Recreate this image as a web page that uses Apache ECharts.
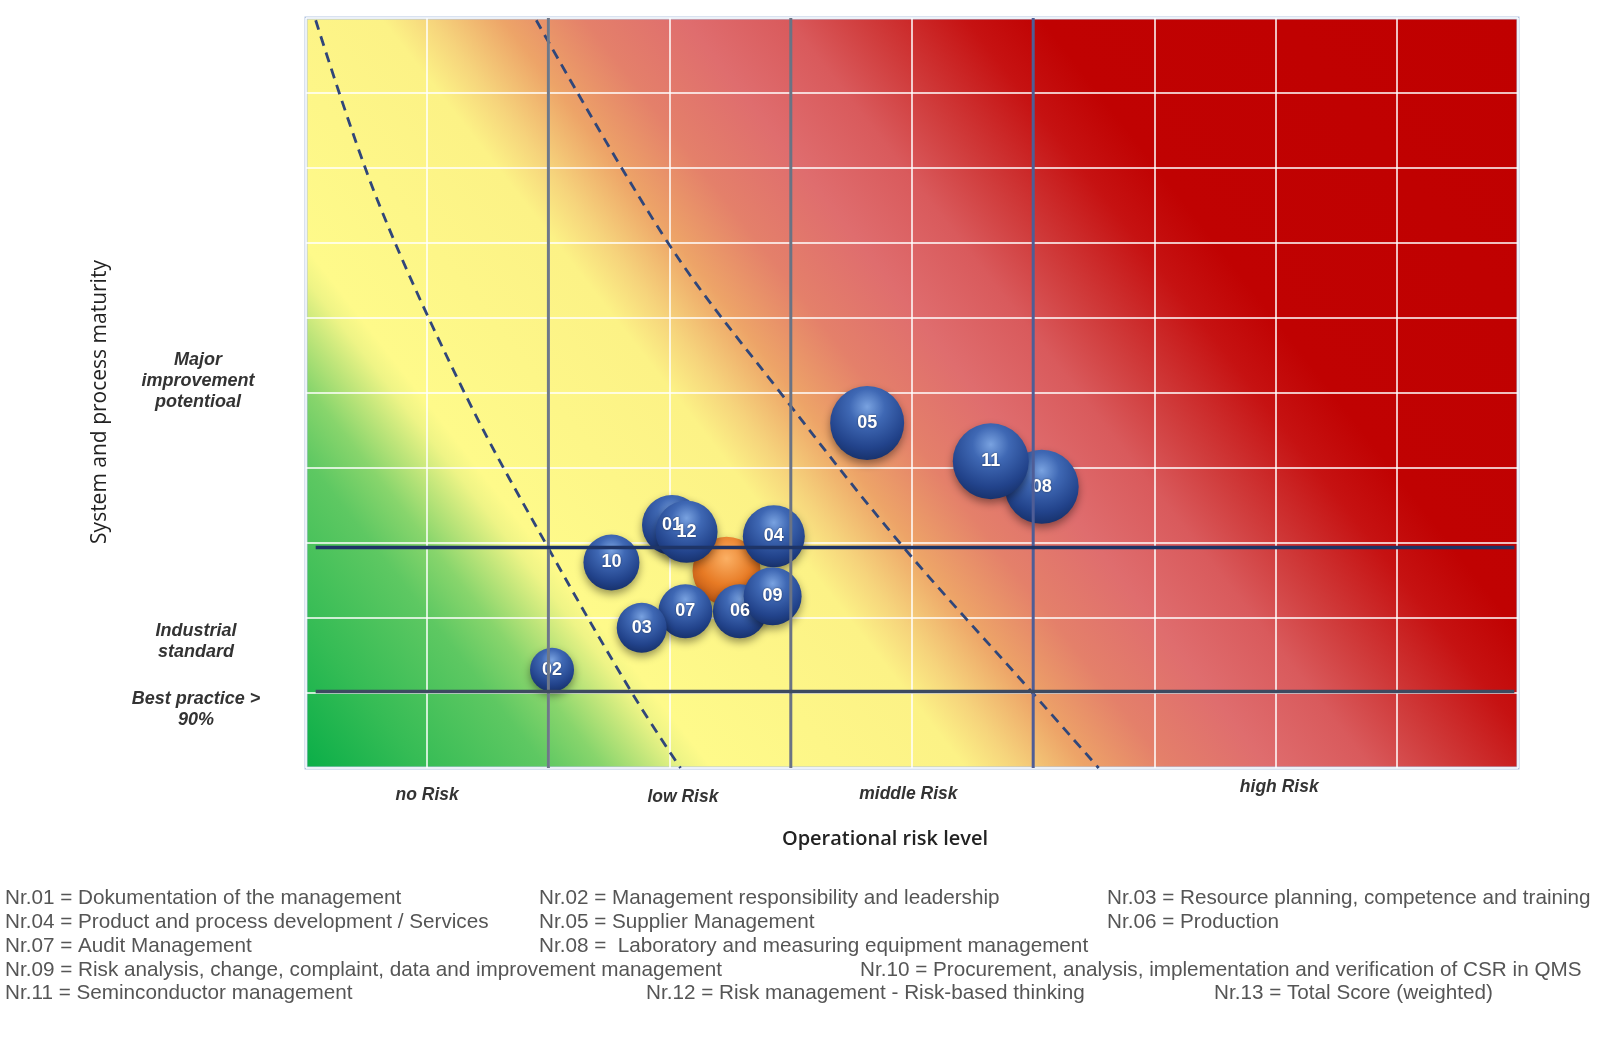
<!DOCTYPE html>
<html>
<head>
<meta charset="utf-8">
<script src="https://cdn.jsdelivr.net/npm/echarts@6/dist/echarts.min.js"></script>
<style>
  html, body { margin: 0; padding: 0; background: #ffffff; }
  #main { width: 1600px; height: 1052px; }
</style>
</head>
<body>
<div id="main"></div>
<script>
// ---------------- DATA ----------------
// Bubble ids in drawing order (later = on top)
const bubbleIds      = ['13', '08', '11', '05', '01', '12', '04', '10', '06', '09', '07', '03', '02'];
// Operational risk level (x)
const riskLevel      = [3.47, 6.07, 5.65, 4.63, 3.02, 3.14, 3.86, 2.52, 3.58, 3.85, 3.13, 2.77, 2.03];
// System and process maturity (y)
const maturity       = [2.63, 3.75, 4.09, 4.60, 3.24, 3.15, 3.09, 2.74, 2.09, 2.29, 2.09, 1.87, 1.31];
// Bubble weight (diameter)
const bubbleSize     = [68, 74, 76, 74, 60, 62, 62, 56, 54, 58, 54, 50, 44];

// Divider lines
const riskDividers     = [2, 4, 6];
const maturityDividers = [2.94, 1.02];

// Dashed boundary curves  [risk, maturity]
const boundaryLow  = [[0.08, 9.97], [0.59, 7.57], [1.33, 4.93], [2.0, 2.93], [2.69, 1.0], [3.09, 0]];
const boundaryHigh = [[1.9, 9.97], [3.0, 6.97], [3.95, 4.93], [4.9, 3.0], [5.99, 1.01], [6.54, 0]];

// Zone labels along x axis
const zoneNames     = ['no Risk', 'low Risk', 'middle Risk', 'high Risk'];
const zonePositions = [1, 3.11, 4.97, 8.03];

// Maturity level labels on the left
const levelNames = ['Major\nimprovement\npotentioal', 'Industrial\nstandard', 'Best practice >\n90%'];

const xTitle = 'Operational risk level';
const yTitle = 'System and process maturity';

// Legend text lines
const legendItems = [
  'Nr.01 = Dokumentation of the management',
  'Nr.02 = Management responsibility and leadership',
  'Nr.03 = Resource planning, competence and training',
  'Nr.04 = Product and process development / Services',
  'Nr.05 = Supplier Management',
  'Nr.06 = Production',
  'Nr.07 = Audit Management',
  'Nr.08 =  Laboratory and measuring equipment management',
  'Nr.09 = Risk analysis, change, complaint, data and improvement management',
  'Nr.10 = Procurement, analysis, implementation and verification of CSR in QMS',
  'Nr.11 = Seminconductor management',
  'Nr.12 = Risk management - Risk-based thinking',
  'Nr.13 = Total Score (weighted)'
];

// ---------------- LAYOUT / STYLE ----------------
const G = { left: 306, top: 18, width: 1212, height: 750 };
const legendPos = [
  [5, 0], [539, 0], [1107, 0],
  [5, 1], [539, 1], [1107, 1],
  [5, 2], [539, 2],
  [5, 3], [860, 3],
  [5, 4], [646, 4], [1214, 4]
];
const zoneY = [795, 797, 794, 787];
const levelPos = [[198, 381], [196, 642], [196, 710]];

const bg = {
  type: 'linear', global: true,
  x: G.left, y: G.top + G.height, x2: G.left + 1117.5, y2: G.top + G.height - 871.5,
  colorStops: [
    { offset: 0.000, color: '#0aae48' },
    { offset: 0.064, color: '#35bc55' },
    { offset: 0.134, color: '#5ec862' },
    { offset: 0.166, color: '#88d56c' },
    { offset: 0.191, color: '#bfe57a' },
    { offset: 0.212, color: '#eef486' },
    { offset: 0.226, color: '#fefa8a' },
    { offset: 0.367, color: '#fcf286' },
    { offset: 0.395, color: '#f6d47c' },
    { offset: 0.434, color: '#eda468' },
    { offset: 0.480, color: '#e4806a' },
    { offset: 0.536, color: '#df6d6e' },
    { offset: 0.593, color: '#d95a5c' },
    { offset: 0.635, color: '#d03c3c' },
    { offset: 0.692, color: '#c61212' },
    { offset: 0.734, color: '#c00202' },
    { offset: 1.000, color: '#c00000' }
  ]
};

const blueBall = {
  type: 'radial', x: 0.5, y: 0.28, r: 0.8,
  colorStops: [
    { offset: 0, color: '#79a2e0' },
    { offset: 0.3, color: '#3f68b4' },
    { offset: 0.7, color: '#22438b' },
    { offset: 1, color: '#132a5e' }
  ]
};
const orangeBall = {
  type: 'radial', x: 0.5, y: 0.32, r: 0.8,
  colorStops: [
    { offset: 0, color: '#fbb064' },
    { offset: 0.5, color: '#e77a24' },
    { offset: 1, color: '#a8460c' }
  ]
};

const vColors = ['#6e7888', '#6a7384', '#4f5d96'];
const hColors = ['#1e3466', '#3d4a60'];

const chart = echarts.init(document.getElementById('main'), null, { renderer: 'canvas' });

const series = [];

// Dashed boundaries
[boundaryLow, boundaryHigh].forEach(function (d) {
  series.push({
    type: 'line', data: d, smooth: 0.35, symbol: 'none', z: 3, silent: true,
    lineStyle: { color: '#30467a', width: 2.8, type: [10, 7] }
  });
});

// Bubbles
series.push({
  type: 'scatter', z: 5, silent: true,
  data: bubbleIds.map(function (id, i) {
    return {
      name: id,
      value: [riskLevel[i], maturity[i]],
      symbolSize: bubbleSize[i],
      itemStyle: { color: id === '13' ? orangeBall : blueBall },
      label: { show: id !== '13' }
    };
  }),
  itemStyle: {
    opacity: 1,
    shadowBlur: 8, shadowColor: 'rgba(0,0,0,0.4)', shadowOffsetY: 4
  },
  label: {
    show: true, formatter: '{b}', position: 'inside',
    color: '#ffffff', fontSize: 18, fontWeight: 'bold',
    fontFamily: '"Liberation Sans", Arial, sans-serif',
    textShadowColor: 'rgba(0,0,0,0.5)', textShadowBlur: 2
  }
});

// Divider lines (on top)
riskDividers.forEach(function (v, i) {
  series.push({
    type: 'line', data: [[v, 0], [v, 10]], symbol: 'none', z: 30, silent: true,
    lineStyle: { color: vColors[i], width: 3 }
  });
});
maturityDividers.forEach(function (v, i) {
  series.push({
    type: 'line', data: [[0.08, v], [9.97, v]], symbol: 'none', z: 30, silent: true,
    lineStyle: { color: hColors[i], width: 3.5 }
  });
});

// Graphic texts
const graphics = [];
legendItems.forEach(function (t, i) {
  graphics.push({
    type: 'text', left: legendPos[i][0], top: 888 + legendPos[i][1] * 23.8, silent: true,
    style: { text: t, fill: '#555555', font: '20.7px "Liberation Sans", Arial, sans-serif' }
  });
});
graphics.push({
  type: 'text', x: 885, y: 839, silent: true,
  style: { text: xTitle, fill: '#222222', font: '600 20px "Open Sans", sans-serif', align: 'center', verticalAlign: 'middle' }
});
graphics.push({
  type: 'text', x: 100, y: 402, rotation: Math.PI / 2, silent: true,
  style: { text: yTitle, fill: '#222222', font: '21px "Open Sans", sans-serif', align: 'center', verticalAlign: 'middle' }
});
levelNames.forEach(function (t, i) {
  graphics.push({
    type: 'text', x: levelPos[i][0], y: levelPos[i][1], silent: true,
    style: { text: t, fill: '#333333', font: 'italic bold 18px "Liberation Sans", Arial, sans-serif',
             align: 'center', verticalAlign: 'middle', lineHeight: 21 }
  });
});

chart.setOption({
  animation: false,
  backgroundColor: '#ffffff',
  grid: {
    left: G.left, top: G.top, width: G.width, height: G.height, containLabel: false,
    show: true, backgroundColor: bg, borderColor: '#b3c6e2', borderWidth: 3
  },
  xAxis: {
    type: 'value', min: 0, max: 10, interval: 1,
    axisLine: { show: false }, axisTick: { show: false }, axisLabel: { show: false },
    splitLine: { show: true, lineStyle: { color: 'rgba(255,255,255,0.75)', width: 2 } }
  },
  yAxis: {
    type: 'value', min: 0, max: 10, interval: 1,
    axisLine: { show: false }, axisTick: { show: false }, axisLabel: { show: false },
    splitLine: { show: true, lineStyle: { color: 'rgba(255,255,255,0.75)', width: 2 } }
  },
  series: series,
  graphic: graphics
});

// Zone labels positioned through the x axis scale
const zoneGraphics = zoneNames.map(function (t, i) {
  const px = chart.convertToPixel({ gridIndex: 0 }, [zonePositions[i], 0])[0];
  return {
    type: 'text', x: px, y: zoneY[i], silent: true,
    style: { text: t, fill: '#333333', font: 'italic bold 17.5px "Liberation Sans", Arial, sans-serif',
             align: 'center', verticalAlign: 'middle' }
  };
});
chart.setOption({ graphic: graphics.concat(zoneGraphics) });
</script>
</body>
</html>
